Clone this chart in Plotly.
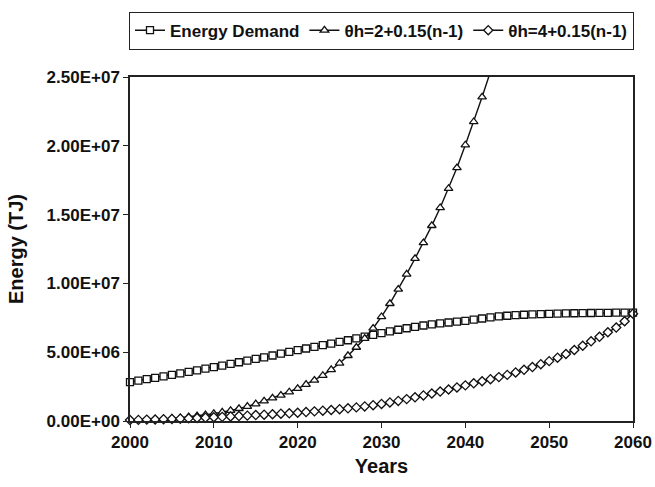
import plotly.graph_objects as go

# Years of the projection
years = list(range(2000, 2061))

# Energy demand (TJ, in millions)
demand_m = [
    2.83, 2.94, 3.04, 3.14, 3.25, 3.35, 3.46, 3.57, 3.68, 3.80,
    3.91, 4.03, 4.15, 4.27, 4.39, 4.51, 4.63, 4.76, 4.89, 5.02,
    5.15, 5.27, 5.39, 5.51, 5.63, 5.75, 5.87, 6.00, 6.13, 6.26,
    6.39, 6.51, 6.63, 6.74, 6.84, 6.94, 7.02, 7.09, 7.16, 7.22,
    7.28, 7.37, 7.45, 7.53, 7.60, 7.65, 7.69, 7.72, 7.75, 7.77,
    7.79, 7.81, 7.82, 7.83, 7.84, 7.85, 7.86, 7.86, 7.87, 7.87,
    7.87,
]

# Supply with theta_h = 2 + 0.15(n-1) (TJ, in millions); runs off the top after 2042
years_h2 = list(range(2000, 2045))
supply_h2_m = [
    0.05, 0.07, 0.09, 0.12, 0.15, 0.19, 0.24, 0.30, 0.37, 0.45,
    0.54, 0.64, 0.76, 0.90, 1.06, 1.24, 1.45, 1.67, 1.87, 2.11,
    2.36, 2.66, 2.96, 3.31, 3.73, 4.20, 4.75, 5.35, 6.00, 6.74,
    7.58, 8.53, 9.57, 10.67, 11.81, 12.95, 14.20, 15.50, 16.90, 18.40,
    20.06, 21.75, 23.54, 25.40, 27.30,
]

# Supply with theta_h = 4 + 0.15(n-1) (TJ, in millions)
supply_h4_m = [
    0.07, 0.08, 0.10, 0.11, 0.13, 0.15, 0.17, 0.19, 0.22, 0.24,
    0.27, 0.30, 0.33, 0.36, 0.39, 0.43, 0.46, 0.49, 0.53, 0.56,
    0.60, 0.65, 0.70, 0.75, 0.80, 0.86, 0.92, 0.99, 1.06, 1.15,
    1.24, 1.35, 1.46, 1.59, 1.72, 1.86, 2.00, 2.14, 2.29, 2.44,
    2.59, 2.74, 2.89, 3.04, 3.19, 3.35, 3.53, 3.72, 3.92, 4.13,
    4.35, 4.60, 4.87, 5.16, 5.47, 5.79, 6.12, 6.45, 6.79, 7.25,
    7.80,
]

y_tick_vals = [0, 5e6, 1e7, 1.5e7, 2e7, 2.5e7]
y_tick_text = ["0.00E+00", "5.00E+06", "1.00E+07", "1.50E+07", "2.00E+07", "2.50E+07"]
x_tick_vals = [2000, 2010, 2020, 2030, 2040, 2050, 2060]

FONT = "Arial, Liberation Sans, sans-serif"
BLACK = "#111111"


def scaled(vals):
    return [v * 1e6 for v in vals]


def marker(symbol, size):
    return dict(symbol=symbol, size=size, color="white",
                line=dict(color=BLACK, width=1.3))


fig = go.Figure()
fig.add_trace(go.Scatter(
    x=years, y=scaled(demand_m), name="Energy Demand",
    mode="lines+markers", line=dict(color=BLACK, width=1.4),
    marker=marker("square", 7), cliponaxis=False,
))
fig.add_trace(go.Scatter(
    x=years_h2, y=scaled(supply_h2_m), name="θh=2+0.15(n-1)",
    mode="lines+markers", line=dict(color=BLACK, width=1.4),
    marker=marker("triangle-up", 7.5), cliponaxis=True,
))
fig.add_trace(go.Scatter(
    x=years, y=scaled(supply_h4_m), name="θh=4+0.15(n-1)",
    mode="lines+markers", line=dict(color=BLACK, width=1.4),
    marker=marker("diamond", 7), cliponaxis=False,
))

axis_common = dict(
    showline=True, linecolor="#222222", linewidth=1.5, mirror=True,
    ticks="outside", ticklen=5, tickcolor="#222222", tickwidth=1.3,
    showgrid=False, zeroline=False,
    tickfont=dict(family=FONT, size=17, color=BLACK, weight="bold"),
)

fig.update_layout(
    width=655, height=487,
    margin=dict(l=130, r=22, t=74, b=66),
    paper_bgcolor="white", plot_bgcolor="white",
    showlegend=True,
    legend=dict(
        orientation="h", x=0.5, xanchor="center", y=1.19, yanchor="top",
        bordercolor="#222222", borderwidth=1, bgcolor="white",
        font=dict(family=FONT, size=17, color=BLACK, weight="bold"),
        itemwidth=30, tracegroupgap=0,
    ),
    xaxis=dict(
        range=[2000, 2060], tickvals=x_tick_vals,
        title=dict(text="Years", standoff=8,
                   font=dict(family=FONT, size=20, color=BLACK, weight="bold")),
        automargin=False, **axis_common,
    ),
    yaxis=dict(
        range=[0, 2.5e7], tickvals=y_tick_vals, ticktext=y_tick_text,
        title=dict(text="Energy (TJ)", standoff=18,
                   font=dict(family=FONT, size=20, color=BLACK, weight="bold")),
        automargin=False, **axis_common,
    ),
)

fig.write_html("out.html")
